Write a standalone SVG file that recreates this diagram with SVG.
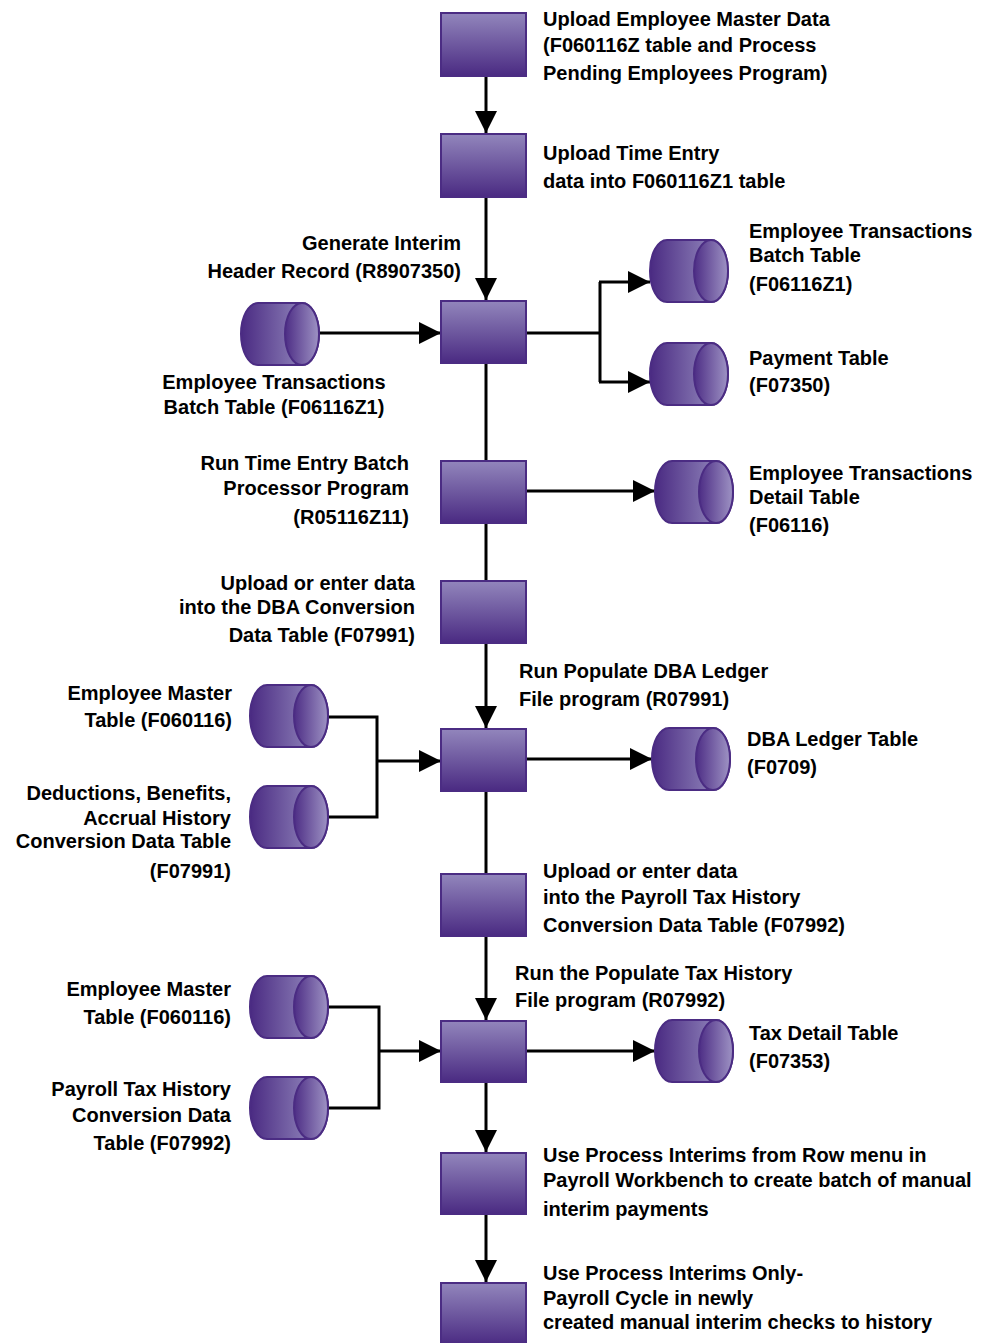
<svg xmlns="http://www.w3.org/2000/svg" width="982" height="1343" viewBox="0 0 982 1343">
<style>
text{font-family:"Liberation Sans",Arial,sans-serif;font-size:20px;font-weight:bold;fill:#000}
.r{text-anchor:end}
.m{text-anchor:middle}
.box{fill:url(#gBox);stroke:#4b2c83;stroke-width:2}
.cb{fill:url(#gCyl);stroke:#4b2c83;stroke-width:2}
.cf{fill:url(#gFace);stroke:#4b2c83;stroke-width:2}
.ln{fill:none;stroke:#000;stroke-width:3}
.ar{marker-end:url(#ah)}
</style>
<defs>
<linearGradient id="gBox" x1="0" y1="0" x2="0" y2="1">
<stop offset="0" stop-color="#9286bc"/>
<stop offset="1" stop-color="#4a2a82"/>
</linearGradient>
<linearGradient id="gCyl" x1="0" y1="0" x2="1" y2="0">
<stop offset="0" stop-color="#4a2a82"/>
<stop offset="0.75" stop-color="#8a7db6"/>
<stop offset="1" stop-color="#6c5aa0"/>
</linearGradient>
<linearGradient id="gFace" x1="0" y1="0" x2="1" y2="0">
<stop offset="0" stop-color="#4d2d85"/>
<stop offset="1" stop-color="#9e93c4"/>
</linearGradient>
<marker id="ah" markerUnits="userSpaceOnUse" markerWidth="22" markerHeight="22" refX="22" refY="11" orient="auto" viewBox="0 0 22 22">
<path d="M0,0 L22,11 L0,22 Z" fill="#000"/>
</marker>
<g id="cyl">
<path class="cb" d="M17,0 H61 A17,31 0 0 1 61,62 H17 A17,31 0 0 1 17,0 Z"/>
<ellipse class="cf" cx="61" cy="31" rx="17" ry="31"/>
</g>
</defs>

<g id="connectors">
<path class="ln ar" d="M486,77 V133"/>
<path class="ln ar" d="M486,198 V300"/>
<path class="ln" d="M486,364 V460"/>
<path class="ln" d="M486,524 V580"/>
<path class="ln ar" d="M486,644 V728"/>
<path class="ln" d="M486,792 V873"/>
<path class="ln ar" d="M486,937 V1020"/>
<path class="ln ar" d="M486,1083 V1152"/>
<path class="ln ar" d="M486,1215 V1282"/>
<path class="ln ar" d="M318,333 H441"/>
<path class="ln" d="M527,333 H600 M600,282 V382"/>
<path class="ln ar" d="M599,282 H650"/>
<path class="ln ar" d="M599,382 H650"/>
<path class="ln ar" d="M527,491 H655"/>
<path class="ln" d="M328,717 H377 V817 H328"/>
<path class="ln ar" d="M376,761 H441"/>
<path class="ln ar" d="M527,759 H652"/>
<path class="ln" d="M328,1007 H379 V1108 H328"/>
<path class="ln ar" d="M378,1051 H441"/>
<path class="ln ar" d="M527,1051 H655"/>
</g>

<g id="box1">
<rect class="box" x="441" y="13" width="85" height="63"/>
<text x="543" y="26">Upload Employee Master Data</text>
<text x="543" y="52">(F060116Z table and Process</text>
<text x="543" y="80">Pending Employees Program)</text>
</g>
<g id="box2">
<rect class="box" x="441" y="134" width="85" height="63"/>
<text x="543" y="160">Upload Time Entry</text>
<text x="543" y="188">data into F060116Z1 table</text>
</g>
<g id="box3">
<rect class="box" x="441" y="301" width="85" height="62"/>
<text class="r" x="461" y="250">Generate Interim</text>
<text class="r" x="461" y="278">Header Record (R8907350)</text>
</g>
<g id="box4">
<rect class="box" x="441" y="461" width="85" height="62"/>
<text class="r" x="409" y="470">Run Time Entry Batch</text>
<text class="r" x="409" y="495">Processor Program</text>
<text class="r" x="409" y="524">(R05116Z11)</text>
</g>
<g id="box5">
<rect class="box" x="441" y="581" width="85" height="62"/>
<text class="r" x="415" y="590">Upload or enter data</text>
<text class="r" x="415" y="614">into the DBA Conversion</text>
<text class="r" x="415" y="642">Data Table (F07991)</text>
</g>
<g id="box6">
<rect class="box" x="441" y="729" width="85" height="62"/>
<text x="519" y="678">Run Populate DBA Ledger</text>
<text x="519" y="706">File program (R07991)</text>
</g>
<g id="box7">
<rect class="box" x="441" y="874" width="85" height="62"/>
<text x="543" y="878">Upload or enter data</text>
<text x="543" y="904">into the Payroll Tax History</text>
<text x="543" y="932">Conversion Data Table (F07992)</text>
</g>
<g id="box8">
<rect class="box" x="441" y="1021" width="85" height="61"/>
<text x="515" y="980">Run the Populate Tax History</text>
<text x="515" y="1007">File program (R07992)</text>
</g>
<g id="box9">
<rect class="box" x="441" y="1153" width="85" height="61"/>
<text x="543" y="1162">Use Process Interims from Row menu in</text>
<text x="543" y="1187">Payroll Workbench to create batch of manual</text>
<text x="543" y="1216">interim payments</text>
</g>
<g id="box10">
<rect class="box" x="441" y="1283" width="85" height="62"/>
<text x="543" y="1280">Use Process Interims Only-</text>
<text x="543" y="1305">Payroll Cycle in newly</text>
<text x="543" y="1329">created manual interim checks to history</text>
</g>

<g id="cyl1">
<use href="#cyl" x="241" y="303"/>
<text class="m" x="274" y="389">Employee Transactions</text>
<text class="m" x="274" y="414">Batch Table (F06116Z1)</text>
</g>
<g id="cyl2">
<use href="#cyl" x="650" y="240"/>
<text x="749" y="238">Employee Transactions</text>
<text x="749" y="262">Batch Table</text>
<text x="749" y="291">(F06116Z1)</text>
</g>
<g id="cyl3">
<use href="#cyl" x="650" y="343"/>
<text x="749" y="365">Payment Table</text>
<text x="749" y="392">(F07350)</text>
</g>
<g id="cyl4">
<use href="#cyl" x="655" y="461"/>
<text x="749" y="480">Employee Transactions</text>
<text x="749" y="504">Detail Table</text>
<text x="749" y="532">(F06116)</text>
</g>
<g id="cyl5">
<use href="#cyl" x="250" y="685"/>
<text class="r" x="232" y="700">Employee Master</text>
<text class="r" x="232" y="727">Table (F060116)</text>
</g>
<g id="cyl6">
<use href="#cyl" x="250" y="786"/>
<text class="r" x="231" y="800">Deductions, Benefits,</text>
<text class="r" x="231" y="825">Accrual History</text>
<text class="r" x="231" y="848">Conversion Data Table</text>
<text class="r" x="231" y="878">(F07991)</text>
</g>
<g id="cyl7">
<use href="#cyl" x="652" y="728"/>
<text x="747" y="746">DBA Ledger Table</text>
<text x="747" y="774">(F0709)</text>
</g>
<g id="cyl8">
<use href="#cyl" x="250" y="976"/>
<text class="r" x="231" y="996">Employee Master</text>
<text class="r" x="231" y="1024">Table (F060116)</text>
</g>
<g id="cyl9">
<use href="#cyl" x="250" y="1077"/>
<text class="r" x="231" y="1096">Payroll Tax History</text>
<text class="r" x="231" y="1122">Conversion Data</text>
<text class="r" x="231" y="1150">Table (F07992)</text>
</g>
<g id="cyl10">
<use href="#cyl" x="655" y="1020"/>
<text x="749" y="1040">Tax Detail Table</text>
<text x="749" y="1068">(F07353)</text>
</g>
</svg>
